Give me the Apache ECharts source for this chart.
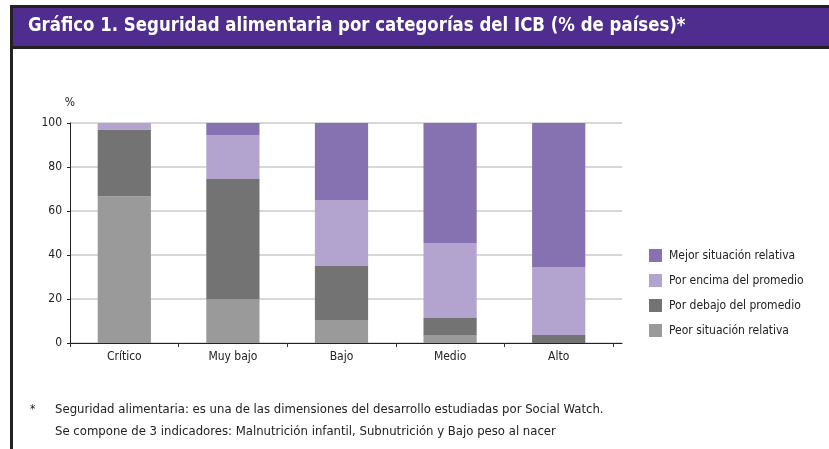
<!DOCTYPE html>
<html>
<head>
<meta charset="utf-8">
<script src="https://cdn.jsdelivr.net/npm/echarts@6/dist/echarts.min.js"></script>
<style>
html,body{margin:0;padding:0;background:#fff;}
#chart{width:829px;height:449px;}
</style>
</head>
<body>
<div id="chart"></div>
<script>
var titleText = 'Gráfico 1. Seguridad alimentaria por categorías del ICB (% de países)*';
var categories = ['Crítico', 'Muy bajo', 'Bajo', 'Medio', 'Alto'];
var seriesNames = ['Peor situación relativa', 'Por debajo del promedio', 'Por encima del promedio', 'Mejor situación relativa'];
var peor    = [66.7, 20.0, 10.5, 3.6, 0];
var debajo  = [30.3, 54.5, 24.5, 7.8, 3.6];
var encima  = [3.0, 20.0, 30.0, 34.1, 30.9];
var mejor   = [0, 5.5, 35.0, 54.5, 65.5];
var yTicks = [0, 20, 40, 60, 80, 100];
var footLines = [
  'Seguridad alimentaria: es una de las dimensiones del desarrollo estudiadas por Social Watch.',
  'Se compone de 3 indicadores: Malnutrición infantil, Subnutrición y Bajo peso al nacer'
];

var FONT = '"Liberation Sans Narrow", "DejaVu Sans Condensed", Arial, sans-serif';
var colors = ['#9a9a9a', '#737373', '#b2a3cf', '#8672b0'];
var values = [peor, debajo, encima, mejor];

var chart = echarts.init(document.getElementById('chart'), null, {renderer: 'canvas'});

var series = seriesNames.map(function (n, i) {
  return {
    name: n, type: 'bar', stack: 'total', data: values[i],
    xAxisIndex: 0, yAxisIndex: 0,
    barWidth: '49%',
    itemStyle: {color: colors[i]},
    emphasis: {disabled: true}
  };
});

var option = {
  animation: false,
  textStyle: {fontFamily: FONT},
  grid: [
    {left: 70, top: 123, width: 543, height: 220},
    {left: 70, top: 123, width: 552, height: 220}
  ],
  xAxis: [
    {
      type: 'category', gridIndex: 0, data: categories,
      axisLine: {show: false},
      axisTick: {show: true, length: 4, lineStyle: {color: '#333'}},
      axisLabel: {color: '#222', fontSize: 12, fontFamily: FONT, margin: 8}
    },
    {
      type: 'value', gridIndex: 1, min: 0, max: 1,
      axisLine: {show: true, onZero: false, lineStyle: {color: '#222', width: 1}},
      axisTick: {show: false}, axisLabel: {show: false}, splitLine: {show: false}
    }
  ],
  yAxis: [
    {
      type: 'value', gridIndex: 0, min: yTicks[0], max: yTicks[yTicks.length - 1], interval: 20,
      name: '%', nameLocation: 'end', nameGap: 14,
      nameTextStyle: {color: '#222', fontSize: 12, fontFamily: FONT, align: 'center'},
      axisLine: {show: true, lineStyle: {color: '#222', width: 1}},
      axisTick: {show: true, length: 3, lineStyle: {color: '#222'}},
      axisLabel: {color: '#222', fontSize: 12, fontFamily: FONT, margin: 8},
      splitLine: {show: false}
    },
    {
      type: 'value', gridIndex: 1, min: yTicks[0], max: yTicks[yTicks.length - 1], interval: 20,
      axisLine: {show: false}, axisTick: {show: false}, axisLabel: {show: false},
      splitLine: {show: true, lineStyle: {color: '#cbcbcb', width: 1.5}}
    }
  ],
  legend: {
    orient: 'vertical', left: 644, top: 244,
    itemWidth: 13, itemHeight: 13, itemGap: 12,
    icon: 'rect',
    data: [seriesNames[3], seriesNames[2], seriesNames[1], seriesNames[0]],
    textStyle: {color: '#222', fontSize: 12, fontFamily: FONT, padding: [0, 0, 0, 2]},
    selectedMode: false
  },
  series: series,
  graphic: [
    {type: 'rect', left: 10, top: 5, shape: {width: 819, height: 44}, style: {fill: '#222'}, silent: true},
    {type: 'rect', left: 13, top: 8, shape: {width: 816, height: 38}, style: {fill: '#4f2d8e'}, silent: true},
    {type: 'rect', left: 10, top: 5, shape: {width: 3, height: 444}, style: {fill: '#222'}, silent: true},
    {type: 'text', x: 28, y: 17, scaleX: 0.97, style: {text: titleText, fill: '#fff', font: 'bold 19px ' + FONT}, silent: true},
    {type: 'text', left: 30, top: 404, style: {text: '*', fill: '#222', font: '12px ' + FONT}, silent: true},
    {type: 'text', left: 55, top: 403, style: {text: footLines[0], fill: '#222', font: '13px ' + FONT}, silent: true},
    {type: 'text', left: 55, top: 425, style: {text: footLines[1], fill: '#222', font: '13px ' + FONT}, silent: true}
  ]
};
chart.setOption(option);
</script>
</body>
</html>
